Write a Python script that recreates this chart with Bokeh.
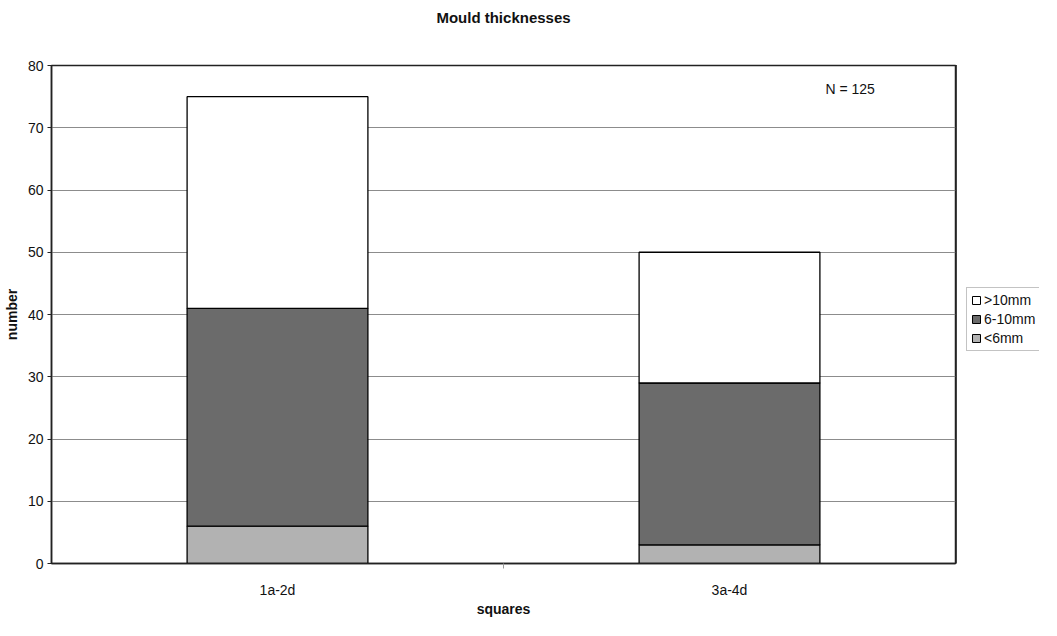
from bokeh.plotting import figure
from bokeh.layouts import row
from bokeh.models import (ColumnDataSource, Range1d, FixedTicker, Legend, LegendItem, Label, Title)
from bokeh.embed import file_html
from bokeh.resources import INLINE

# ---- data ----
categories = ["1a-2d", "3a-4d"]
series_names = ["<6mm", "6-10mm", ">10mm"]
lt6 = [6, 3]
mid = [35, 26]
gt10 = [34, 21]
y_ticks = [0, 10, 20, 30, 40, 50, 60, 70, 80]
note_text = "N = 125"
title_text = "Mould thicknesses"

FONT = "Liberation Sans"
colors = ["#b2b2b2", "#6b6b6b", "#ffffff"]
stackers = ["lt6", "mid", "gt10"]

xpos = [i + 0.5 for i in range(len(categories))]
source = ColumnDataSource(dict(x=xpos, lt6=lt6, mid=mid, gt10=gt10))

p = figure(width=956, height=619, title=None,
           x_range=Range1d(0, len(categories)), y_range=Range1d(0, 80),
           output_backend="svg", toolbar_location=None,
           min_border_left=40, min_border_top=0, min_border_bottom=46, min_border_right=1)

# spacer (nearest the frame) then the real title
p.add_layout(Title(text=" ", text_font=FONT, text_font_size="15px", standoff=13), "above")
p.add_layout(Title(text=title_text, align="center", vertical_align="middle",
                   text_font=FONT, text_font_size="15px", text_font_style="bold",
                   text_color="#111111", standoff=14, offset=15), "above")

renderers = p.vbar_stack(stackers, x="x", width=0.4, source=source,
                         fill_color=colors, line_color="black", line_width=1.3)

# axes
p.xaxis.ticker = FixedTicker(ticks=xpos, minor_ticks=[1])
p.xaxis.major_label_overrides = {x: c for x, c in zip(xpos, categories)}
p.xaxis.minor_tick_out = 5
p.xaxis.minor_tick_in = 0
p.xaxis.minor_tick_line_color = "#999999"
p.xaxis.axis_label = "squares"

p.yaxis.ticker = FixedTicker(ticks=y_ticks)
p.yaxis.axis_label = "number"
p.yaxis.major_tick_out = 4
p.yaxis.major_tick_in = 0
p.yaxis.minor_tick_line_color = None

for ax in (p.xaxis, p.yaxis):
    ax.axis_line_color = "#222222"
    ax.axis_line_width = 1.5
    ax.major_label_text_font = FONT
    ax.major_label_text_font_size = "14px"
    ax.major_label_text_color = "#111111"
    ax.axis_label_text_font = FONT
    ax.axis_label_text_font_size = "14px"
    ax.axis_label_text_font_style = "bold"
    ax.axis_label_text_color = "#111111"
p.xaxis.major_tick_line_color = None
p.yaxis.major_tick_line_color = "#222222"
p.xaxis.major_label_standoff = 12
p.xaxis.axis_label_standoff = 0
p.yaxis.major_label_standoff = 4
p.yaxis.axis_label_standoff = 5

p.xgrid.grid_line_color = None
p.ygrid.ticker = FixedTicker(ticks=y_ticks)
p.ygrid.grid_line_color = "#8c8c8c"
p.ygrid.grid_line_width = 1

p.outline_line_color = "#222222"
p.outline_line_width = 1.5
p.background_fill_color = "white"
p.border_fill_color = "white"

p.add_layout(Label(x=1.767, y=76.3, text=note_text, text_align="center",
                   text_baseline="middle", text_font=FONT, text_font_size="14px",
                   text_color="#111111"))

# legend panel: a small axis-less figure to the right holding the same (off-range) bars
p2 = figure(width=83, height=619, x_range=Range1d(10, 11), y_range=Range1d(0, 1),
            x_axis_location=None, y_axis_location=None,
            output_backend="svg", toolbar_location=None, min_border=0)
p2.grid.visible = False
p2.outline_line_color = None
leg_r = p2.vbar_stack(stackers, x="x", width=0.4, source=source,
                      fill_color=colors, line_color="black", line_width=1)
items = [LegendItem(label=series_names[i], renderers=[leg_r[i]]) for i in (2, 1, 0)]
legend = Legend(items=items, location=(10, 212), margin=0,
                label_text_font=FONT, label_text_font_size="14px",
                label_text_color="#111111",
                glyph_width=10, glyph_height=10, label_height=16, label_standoff=3,
                spacing=3, padding=4, border_line_color="#888888",
                border_line_width=1)
p2.add_layout(legend, "center")

open("out.html", "w").write(file_html(row(p, p2), INLINE))
